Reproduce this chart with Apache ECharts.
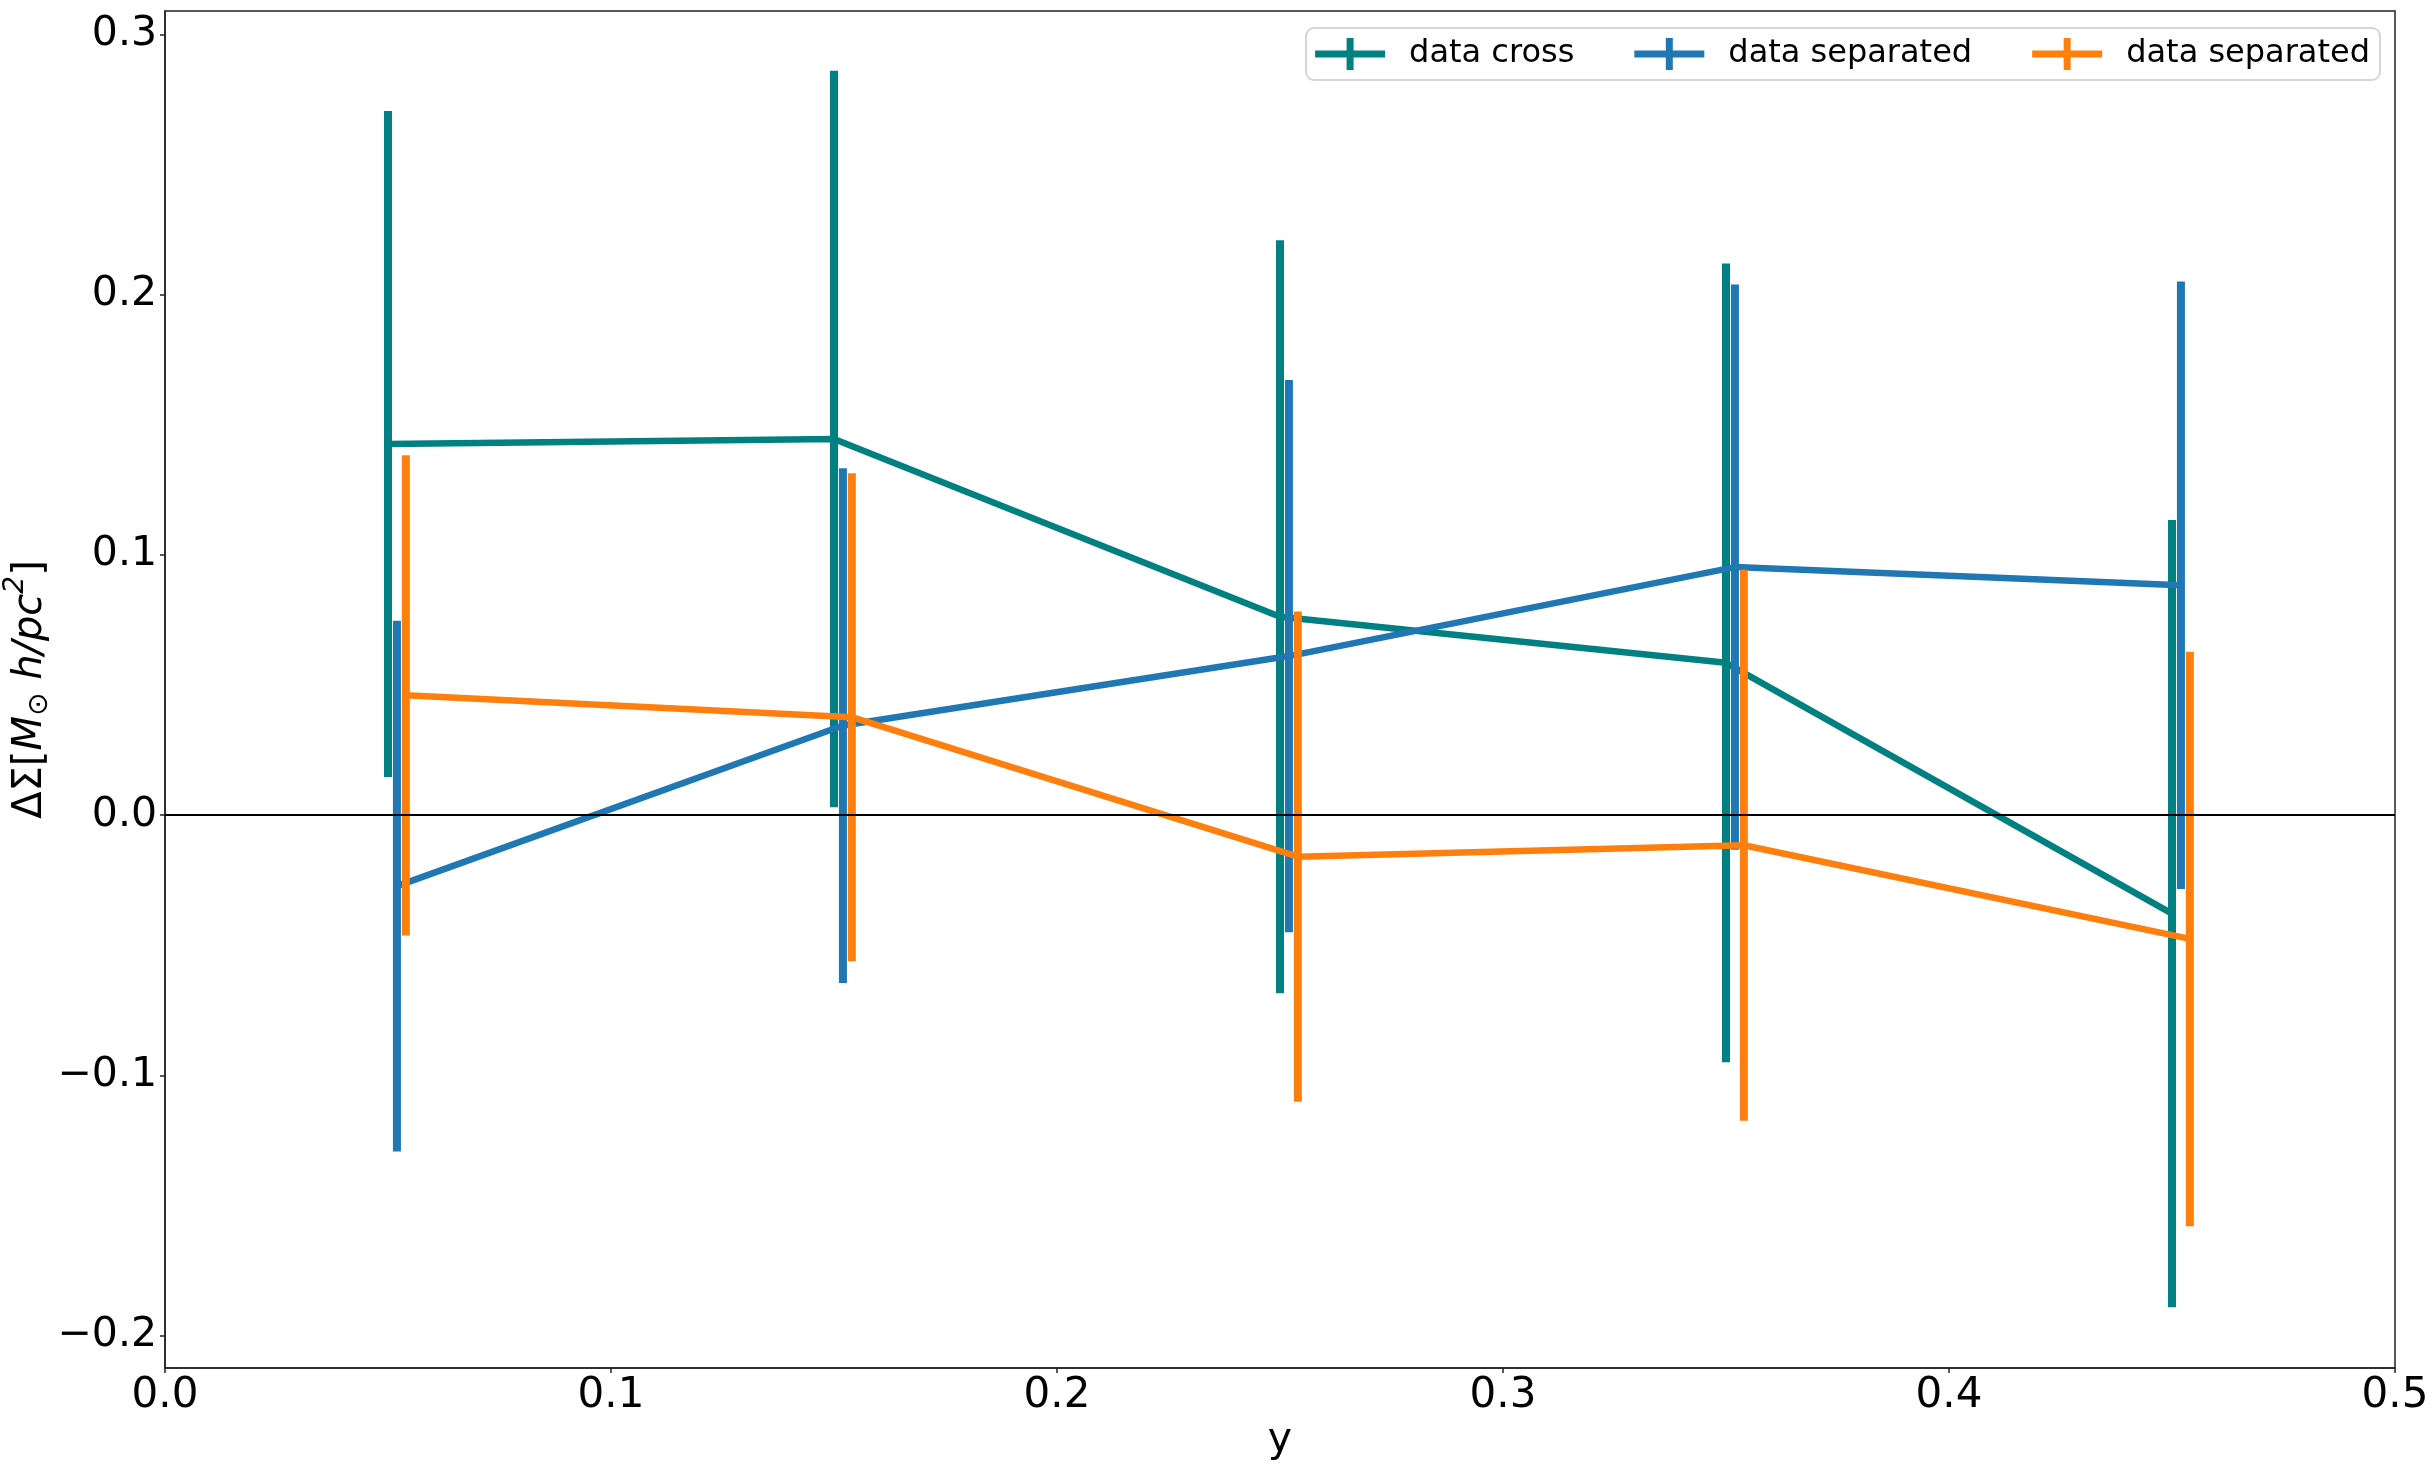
<!DOCTYPE html>
<html>
<head>
<meta charset="utf-8">
<script src="https://cdn.jsdelivr.net/npm/echarts@6/dist/echarts.min.js"></script>
<style>
  html, body { margin: 0; padding: 0; background: #fff; }
  #chart { width: 2435px; height: 1467px; }
</style>
</head>
<body>
<div id="chart"></div>
<script>
  // x positions of the bins, each series is shifted a little to the right
  var xs = [0.05, 0.15, 0.25, 0.35, 0.45]
  var xShift = [0, 0.002, 0.004]

  var names = ['data cross', 'data separated', 'data separated']
  var colors = ['#008080', '#1f77b4', '#ff7f0e']

  var crossVal = [0.1426, 0.1445, 0.0762, 0.0585, -0.0379]
  var crossErr = [0.128, 0.1415, 0.1447, 0.1535, 0.1513]
  var sepAVal = [-0.0273, 0.0344, 0.0611, 0.0953, 0.0883]
  var sepAErr = [0.102, 0.0989, 0.1061, 0.1086, 0.1167]
  var sepBVal = [0.046, 0.0376, -0.016, -0.0116, -0.0476]
  var sepBErr = [0.0923, 0.0938, 0.0942, 0.1059, 0.1104]

  var xTicks = [0, 0.1, 0.2, 0.3, 0.4, 0.5]
  var yTicks = [-0.2, -0.1, 0, 0.1, 0.2, 0.3]

  var values = [crossVal, sepAVal, sepBVal]
  var errors = [crossErr, sepAErr, sepBErr]

  var font = 'DejaVu Sans'
  // legend needs distinct names, the '|n' part is cut off in the formatter
  var legendNames = names.map(function (n, i) { return n + '|' + i })

  // plus shaped icon like matplotlib's errorbar legend handle
  var plusIcon = 'path://M0,12.5H70V19.5H0Z M31.5,0H38.5V32H31.5Z'

  function fmt(v) {
    return (v < 0 ? '\u2212' : '') + Math.abs(v).toFixed(1)
  }

  var series = [{
    // zero line, under everything
    type: 'line',
    data: [],
    z: 1,
    silent: true,
    markLine: {
      silent: true,
      symbol: ['none', 'none'],
      label: {show: false},
      lineStyle: {color: '#000', width: 2, type: 'solid'},
      data: [{yAxis: 0}]
    }
  }]

  values.forEach(function (vals, k) {
    var col = colors[k]
    series.push({
      name: legendNames[k],
      type: 'line',
      z: 2 + k,
      showSymbol: false,
      symbol: 'none',
      itemStyle: {color: col},
      lineStyle: {color: col, width: 6.5},
      data: xs.map(function (x, i) { return [x + xShift[k], vals[i]] })
    })
    series.push({
      name: 'err' + k,
      type: 'custom',
      z: 2 + k,
      silent: true,
      encode: {x: 0, y: [1, 2]},
      data: xs.map(function (x, i) {
        return [x + xShift[k], vals[i] - errors[k][i], vals[i] + errors[k][i]]
      }),
      renderItem: function (params, api) {
        var p1 = api.coord([api.value(0), api.value(1)])
        var p2 = api.coord([api.value(0), api.value(2)])
        return {
          type: 'line',
          shape: {x1: p1[0], y1: p1[1], x2: p2[0], y2: p2[1]},
          style: {stroke: col, lineWidth: 8, lineCap: 'butt'}
        }
      }
    })
  })

  var option = {
    animation: false,
    backgroundColor: '#fff',
    grid: {
      left: 165, right: 40, top: 11, bottom: 99,
      outerBoundsMode: 'none',
      containLabel: false,
      show: true,
      borderColor: '#222',
      borderWidth: 1.5
    },
    legend: {
      data: legendNames,
      right: 55,
      top: 28,
      padding: [10, 10, 10, 9],
      itemGap: 60,
      itemWidth: 70,
      itemHeight: 32,
      icon: plusIcon,
      selectedMode: false,
      backgroundColor: '#fff',
      borderColor: '#d6d6d6',
      borderWidth: 2,
      borderRadius: 8,
      itemStyle: {borderWidth: 0},
      formatter: function (n) { return n.split('|')[0] },
      textStyle: {
        fontFamily: font,
        fontSize: 32,
        lineHeight: 32,
        color: '#000',
        padding: [0, 0, 0, 19]
      }
    },
    xAxis: {
      type: 'value',
      min: 0,
      max: 0.5,
      interval: 0.1,
      name: 'y',
      nameLocation: 'middle',
      nameGap: 52,
      nameMoveOverlap: false,
      nameTextStyle: {fontFamily: font, fontSize: 41, color: '#000'},
      splitLine: {show: false},
      axisLine: {show: true, onZero: false, lineStyle: {color: '#222', width: 1.5}},
      axisTick: {show: true, inside: false, length: 5, lineStyle: {color: '#222', width: 1.5}},
      axisLabel: {
        margin: 7,
        fontFamily: font,
        fontSize: 42,
        color: '#000',
        customValues: xTicks,
        formatter: fmt
      }
    },
    yAxis: {
      type: 'value',
      min: -0.2125,
      max: 0.309,
      name: '{n|ΔΣ[}{i|M}{s|⊙}{i| h/pc}{p|2}{n|]}',
      nameLocation: 'middle',
      nameGap: 105,
      nameRotate: 90,
      nameMoveOverlap: false,
      nameTextStyle: {
        fontFamily: font,
        fontSize: 40,
        color: '#000',
        rich: {
          n: {fontFamily: font, fontSize: 40, color: '#000'},
          i: {fontFamily: font, fontSize: 40, fontStyle: 'italic', color: '#000'},
          s: {fontFamily: font, fontSize: 28, color: '#000', padding: [17, 0, 0, 0]},
          p: {fontFamily: font, fontSize: 28, fontStyle: 'italic', color: '#000', padding: [0, 0, 30, 0]}
        }
      },
      splitLine: {show: false},
      axisLine: {show: true, onZero: false, lineStyle: {color: '#222', width: 1.5}},
      axisTick: {show: true, inside: false, length: 5, customValues: yTicks, lineStyle: {color: '#222', width: 1.5}},
      axisLabel: {
        margin: 8,
        fontFamily: font,
        fontSize: 41,
        color: '#000',
        customValues: yTicks,
        formatter: fmt
      }
    },
    series: series
  }

  var myChart = echarts.init(document.getElementById('chart'))
  myChart.setOption(option)
</script>
</body>
</html>
